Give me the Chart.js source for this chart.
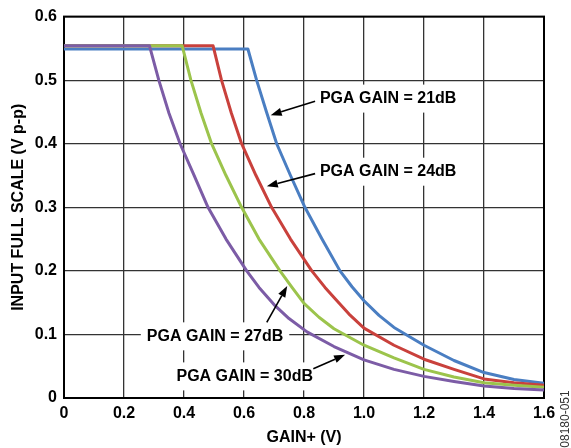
<!DOCTYPE html>
<html>
<head>
<meta charset="utf-8">
<script src="https://cdn.jsdelivr.net/npm/chart.js@4.4.0/dist/chart.umd.min.js"></script>
<style>
  html, body { margin: 0; padding: 0; background: #fff; }
  #wrap { width: 571px; height: 448px; }
</style>
</head>
<body>
<div id="wrap"><canvas id="gainChart" width="571" height="448"></canvas></div>
<script>
// values (x = GAIN+ in V, y = input full scale in V p-p)
const gain21X = [0, 0.613, 0.642, 0.675, 0.709, 0.755, 0.803, 0.86, 0.92, 0.96, 1.0, 1.05, 1.1, 1.2, 1.3, 1.4, 1.5, 1.6];
const gain21Y = [0.549, 0.549, 0.50, 0.45, 0.40, 0.35, 0.30, 0.25, 0.20, 0.175, 0.153, 0.13, 0.111, 0.083, 0.059, 0.040, 0.029, 0.023];

const gain24X = [0, 0.497, 0.525, 0.558, 0.592, 0.64, 0.692, 0.755, 0.826, 0.87, 0.9, 0.95, 1.0, 1.1, 1.2, 1.3, 1.4, 1.5, 1.6];
const gain24Y = [0.554, 0.554, 0.50, 0.448, 0.40, 0.35, 0.30, 0.25, 0.20, 0.174, 0.158, 0.132, 0.110, 0.083, 0.061, 0.045, 0.030, 0.024, 0.020];

const gain27X = [0, 0.394, 0.423, 0.457, 0.492, 0.54, 0.592, 0.65, 0.72, 0.76, 0.8, 0.85, 0.9, 1.0, 1.1, 1.2, 1.3, 1.4, 1.5, 1.6];
const gain27Y = [0.554, 0.554, 0.50, 0.448, 0.40, 0.35, 0.30, 0.25, 0.20, 0.174, 0.149, 0.127, 0.109, 0.083, 0.063, 0.045, 0.033, 0.024, 0.020, 0.017];

const gain30X = [0, 0.285, 0.316, 0.35, 0.387, 0.43, 0.48, 0.54, 0.609, 0.65, 0.70, 0.75, 0.81, 0.9, 1.0, 1.1, 1.2, 1.3, 1.4, 1.5, 1.6];
const gain30Y = [0.554, 0.554, 0.50, 0.448, 0.40, 0.354, 0.30, 0.25, 0.20, 0.174, 0.147, 0.125, 0.104, 0.081, 0.060, 0.045, 0.034, 0.026, 0.019, 0.015, 0.0125];

const xTickLabels = ['0', '0.2', '0.4', '0.6', '0.8', '1.0', '1.2', '1.4', '1.6'];
const yTickLabels = ['0', '0.1', '0.2', '0.3', '0.4', '0.5', '0.6'];

const FONT = '"Liberation Sans", Arial, Helvetica, sans-serif';

function pts(xs, ys) {
    return xs.map((x, i) => ({ x: x, y: ys[i] }));
}

// callout labels, placed in data units
const callouts = [
    { text: 'PGA GAIN = 21dB', x: 0.853, y: 0.471, from: [0.837, 0.467], to: [0.689, 0.445] },
    { text: 'PGA GAIN = 24dB', x: 0.853, y: 0.356, from: [0.837, 0.353], to: [0.676, 0.333] },
    { text: 'PGA GAIN = 27dB', x: 0.276, y: 0.097, from: [0.676, 0.119], to: [0.744, 0.176] },
    { text: 'PGA GAIN = 30dB', x: 0.375, y: 0.034, from: [0.831, 0.046], to: [0.937, 0.068] }
];

const calloutPlugin = {
    id: 'callouts',
    beforeDatasetsDraw(chart) {
        const { ctx, chartArea: a, scales: { x, y } } = chart;
        ctx.save();
        ctx.font = 'bold 16px ' + FONT;
        // white boxes that break the grid behind the labels
        ctx.fillStyle = '#fff';
        callouts.forEach(c => {
            const px = x.getPixelForValue(c.x);
            const py = y.getPixelForValue(c.y);
            const w = ctx.measureText(c.text).width;
            ctx.fillRect(px - 6, py - 14, w + 12, 28);
        });
        // plot frame
        ctx.strokeStyle = '#000';
        ctx.lineWidth = 2;
        ctx.strokeRect(a.left, a.top, a.right - a.left, a.bottom - a.top);
        ctx.restore();
    },
    afterDatasetsDraw(chart) {
        const { ctx, scales: { x, y } } = chart;
        ctx.save();
        ctx.font = 'bold 16px ' + FONT;
        ctx.fillStyle = '#000';
        ctx.strokeStyle = '#000';
        ctx.textAlign = 'left';
        ctx.textBaseline = 'middle';
        callouts.forEach(c => {
            ctx.fillText(c.text, x.getPixelForValue(c.x), y.getPixelForValue(c.y));

            const x0 = x.getPixelForValue(c.from[0]), y0 = y.getPixelForValue(c.from[1]);
            const x1 = x.getPixelForValue(c.to[0]), y1 = y.getPixelForValue(c.to[1]);
            const ang = Math.atan2(y1 - y0, x1 - x0);
            const head = 11, half = 4;
            const bx = x1 - head * Math.cos(ang), by = y1 - head * Math.sin(ang);
            ctx.lineWidth = 1.6;
            ctx.beginPath();
            ctx.moveTo(x0, y0);
            ctx.lineTo(bx, by);
            ctx.stroke();
            ctx.beginPath();
            ctx.moveTo(x1, y1);
            ctx.lineTo(bx + half * Math.sin(ang), by - half * Math.cos(ang));
            ctx.lineTo(bx - half * Math.sin(ang), by + half * Math.cos(ang));
            ctx.closePath();
            ctx.fill();
        });

        // figure number on the right edge
        ctx.translate(566, 419);
        ctx.rotate(-Math.PI / 2);
        ctx.font = '12px ' + FONT;
        ctx.fillStyle = '#333';
        ctx.textAlign = 'center';
        ctx.fillText('08180-051', 0, 0);
        ctx.restore();
    }
};

const ctx = document.getElementById('gainChart').getContext('2d');

new Chart(ctx, {
    type: 'line',
    data: {
        datasets: [
            { label: 'PGA GAIN = 21dB', data: pts(gain21X, gain21Y), borderColor: '#4a7ec2', order: 3 },
            { label: 'PGA GAIN = 24dB', data: pts(gain24X, gain24Y), borderColor: '#c9413c', order: 2 },
            { label: 'PGA GAIN = 27dB', data: pts(gain27X, gain27Y), borderColor: '#9cc44c', order: 1 },
            { label: 'PGA GAIN = 30dB', data: pts(gain30X, gain30Y), borderColor: '#7c5ca6', order: 0 }
        ]
    },
    options: {
        responsive: false,
        animation: false,
        events: [],
        layout: { padding: { left: 0, right: 27, top: 14, bottom: 0 } },
        elements: {
            line: { borderWidth: 3, tension: 0, borderJoinStyle: 'round', borderCapStyle: 'round' },
            point: { radius: 0 }
        },
        plugins: {
            legend: { display: false },
            tooltip: { enabled: false }
        },
        scales: {
            x: {
                type: 'linear',
                min: 0,
                max: 1.6,
                afterFit: s => { s.height = 50; },
                grid: { color: '#333', lineWidth: 1.3, drawTicks: false },
                border: { display: false },
                ticks: {
                    stepSize: 0.2,
                    padding: 6,
                    color: '#000',
                    font: { family: FONT, size: 16, weight: 'bold' },
                    callback: (v, i) => xTickLabels[i]
                },
                title: {
                    display: true,
                    text: 'GAIN+ (V)',
                    color: '#000',
                    font: { family: FONT, size: 16, weight: 'bold' },
                    padding: { top: 0, bottom: 1 }
                }
            },
            y: {
                min: 0,
                max: 0.6,
                afterFit: s => { s.width = 64; },
                grid: { color: '#333', lineWidth: 1.3, drawTicks: false },
                border: { display: false },
                ticks: {
                    stepSize: 0.1,
                    padding: 7,
                    color: '#000',
                    font: { family: FONT, size: 16, weight: 'bold' },
                    callback: (v, i) => yTickLabels[i]
                },
                title: {
                    display: true,
                    text: 'INPUT FULL SCALE (V p-p)',
                    color: '#000',
                    font: { family: FONT, size: 16, weight: 'bold' },
                    padding: { top: 9, bottom: 0 }
                }
            }
        }
    },
    plugins: [calloutPlugin]
});
</script>
</body>
</html>
